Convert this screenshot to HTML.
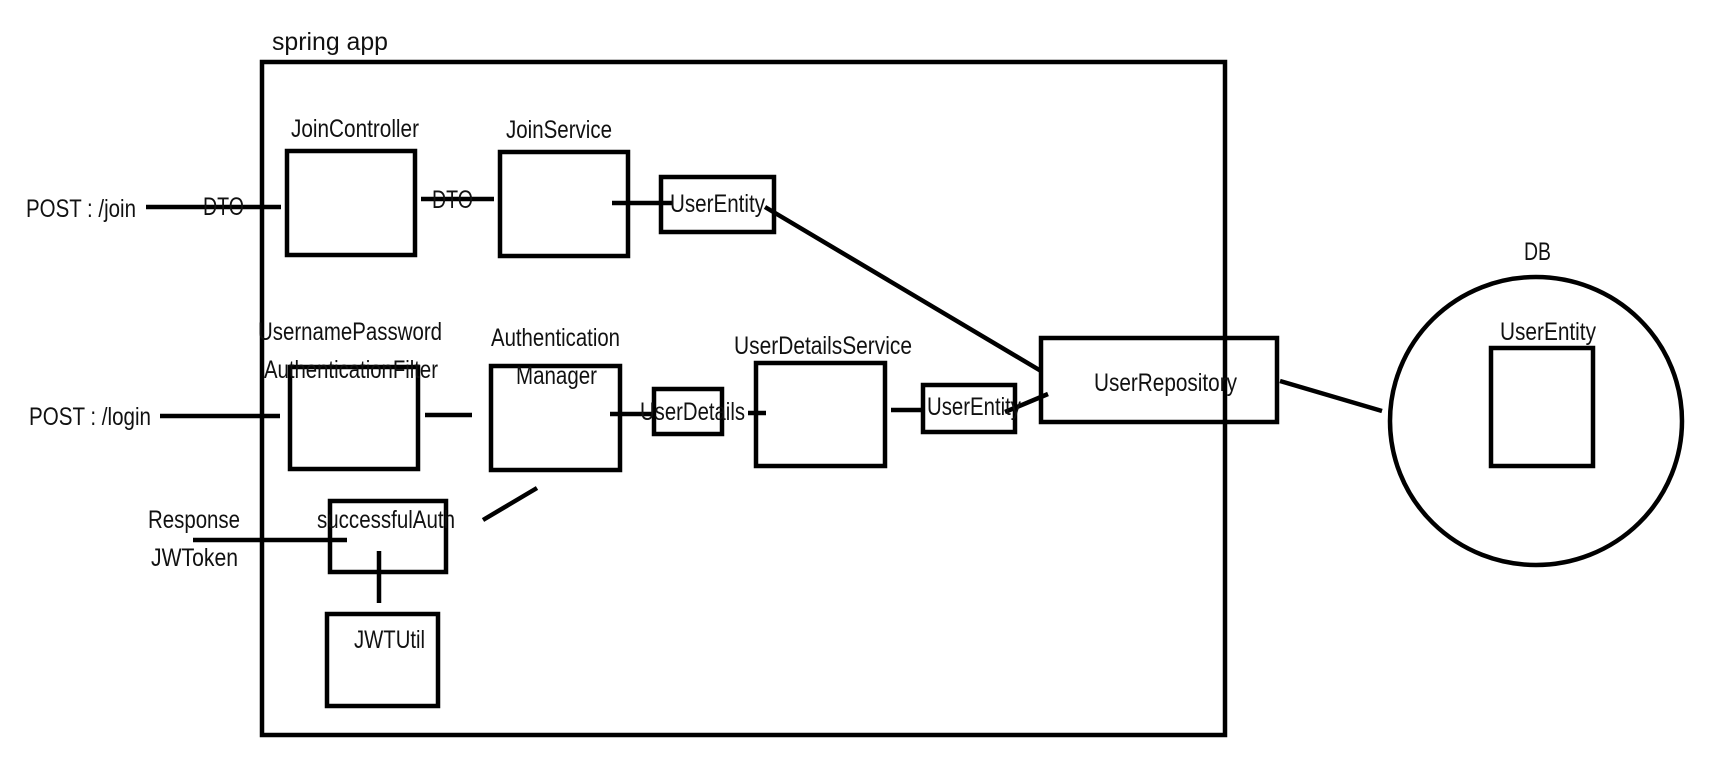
<!DOCTYPE html>
<html><head><meta charset="utf-8"><style>
html,body{margin:0;padding:0;background:#fff;}
svg{display:block;}
text{font-family:"Liberation Sans",Arial,sans-serif;font-size:25px;fill:#111;}
</style></head><body>
<svg width="1718" height="784" viewBox="0 0 1718 784" xmlns="http://www.w3.org/2000/svg">
<g fill="none" stroke="#000" stroke-width="4.5">
<rect x="262" y="62" width="963" height="673"/>
<rect x="287" y="151" width="128" height="104"/>
<rect x="500" y="152" width="128" height="104"/>
<rect x="661" y="177" width="113" height="55"/>
<rect x="1041" y="338" width="236" height="84"/>
<rect x="923" y="385" width="92" height="47"/>
<rect x="756" y="363" width="129" height="103"/>
<rect x="654" y="389" width="68" height="45"/>
<rect x="491" y="366" width="129" height="104"/>
<rect x="290" y="367" width="128" height="102"/>
<rect x="330" y="501" width="116" height="71"/>
<rect x="327" y="614" width="111" height="92"/>
<ellipse cx="1536" cy="421" rx="146" ry="144"/>
<rect x="1491" y="348" width="102" height="118"/>
<line x1="146" y1="207" x2="281" y2="207"/>
<line x1="421" y1="199" x2="494" y2="199"/>
<line x1="612" y1="203" x2="672" y2="203"/>
<line x1="765" y1="207" x2="1041" y2="371"/>
<line x1="891" y1="410" x2="921" y2="410"/>
<line x1="1048" y1="394" x2="1005" y2="412"/>
<line x1="610" y1="414" x2="654" y2="414"/>
<line x1="748" y1="413" x2="766" y2="413"/>
<line x1="425" y1="415" x2="472" y2="415"/>
<line x1="160" y1="416" x2="280" y2="416"/>
<line x1="483" y1="520" x2="537" y2="488"/>
<line x1="193" y1="540" x2="347" y2="540"/>
<line x1="379" y1="551" x2="379" y2="603"/>
<line x1="1280" y1="381" x2="1382" y2="411"/>
</g>
<text x="272" y="50" textLength="116" lengthAdjust="spacingAndGlyphs">spring app</text>
<text x="291" y="137" textLength="128" lengthAdjust="spacingAndGlyphs">JoinController</text>
<text x="506" y="138" textLength="106" lengthAdjust="spacingAndGlyphs">JoinService</text>
<text x="670" y="212" textLength="95" lengthAdjust="spacingAndGlyphs">UserEntity</text>
<text x="26" y="217" textLength="110" lengthAdjust="spacingAndGlyphs">POST : /join</text>
<text x="203" y="215" textLength="41" lengthAdjust="spacingAndGlyphs">DTO</text>
<text x="432" y="208" textLength="41" lengthAdjust="spacingAndGlyphs">DTO</text>
<text x="258" y="340" textLength="184" lengthAdjust="spacingAndGlyphs">UsernamePassword</text>
<text x="264" y="378" textLength="174" lengthAdjust="spacingAndGlyphs">AuthenticationFilter</text>
<text x="491" y="346" textLength="129" lengthAdjust="spacingAndGlyphs">Authentication</text>
<text x="516" y="384" textLength="81" lengthAdjust="spacingAndGlyphs">Manager</text>
<text x="734" y="354" textLength="178" lengthAdjust="spacingAndGlyphs">UserDetailsService</text>
<text x="640" y="420" textLength="105" lengthAdjust="spacingAndGlyphs">UserDetails</text>
<text x="927" y="415" textLength="94" lengthAdjust="spacingAndGlyphs">UserEntity</text>
<text x="1094" y="391" textLength="143" lengthAdjust="spacingAndGlyphs">UserRepository</text>
<text x="1524" y="260" textLength="27" lengthAdjust="spacingAndGlyphs">DB</text>
<text x="1500" y="340" textLength="96" lengthAdjust="spacingAndGlyphs">UserEntity</text>
<text x="29" y="425" textLength="122" lengthAdjust="spacingAndGlyphs">POST : /login</text>
<text x="148" y="528" textLength="92" lengthAdjust="spacingAndGlyphs">Response</text>
<text x="151" y="566" textLength="87" lengthAdjust="spacingAndGlyphs">JWToken</text>
<text x="317" y="528" textLength="138" lengthAdjust="spacingAndGlyphs">successfulAuth</text>
<text x="354" y="648" textLength="71" lengthAdjust="spacingAndGlyphs">JWTUtil</text>
</svg>
</body></html>
